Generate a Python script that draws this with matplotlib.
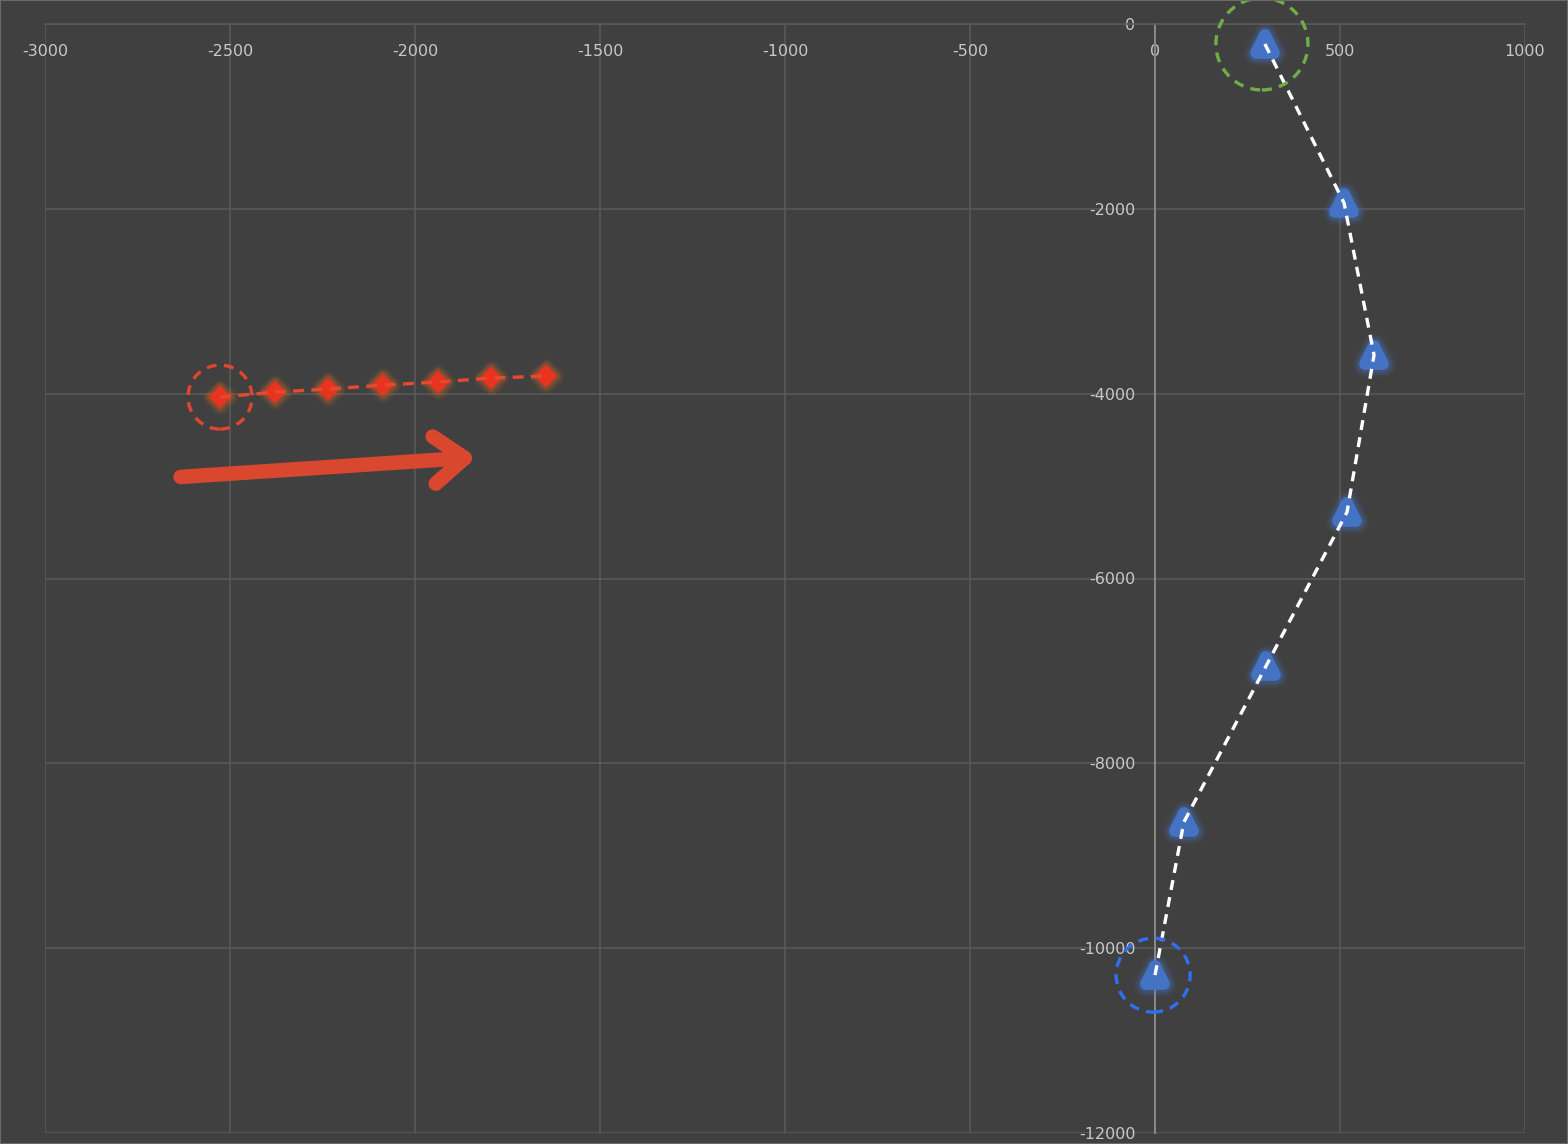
import matplotlib.pyplot as plt
from matplotlib.markers import MarkerStyle
from matplotlib.patches import Ellipse, FancyArrowPatch, Rectangle

# data
blue_x = [297, 511, 592, 519, 300, 78, 0]
blue_y = [-216, -1937, -3582, -5281, -6948, -8636, -10292]

red_x = [-2527, -2378, -2235, -2086, -1938, -1795, -1646]
red_y = [-4037, -3983, -3950, -3907, -3874, -3831, -3810]

x_ticks = [-3000, -2500, -2000, -1500, -1000, -500, 0, 500, 1000]
y_ticks = [0, -2000, -4000, -6000, -8000, -10000, -12000]

bg = '#404040'
grid_c = '#595959'
label_c = '#c8c8c8'

plt.rcParams['axes.unicode_minus'] = False
plt.rcParams['font.family'] = ['DejaVu Sans']

W, H = 1568, 1144
fig = plt.figure(figsize=(W / 100, H / 100), dpi=100, facecolor=bg)
ax = fig.add_axes([45 / W, 11 / H, 1480 / W, 1109 / H], facecolor=bg)
ax.set_xlim(-3000, 1000)
ax.set_ylim(-12000, 0)

# axes: x labels hang below the top line, y labels sit left of x=0
for s in ['right', 'bottom']:
    ax.spines[s].set_visible(False)
ax.spines['top'].set_color(grid_c)
ax.spines['top'].set_linewidth(1.2)
ax.spines['left'].set_position(('data', 0))
ax.spines['left'].set_color('#8a8a8a')
ax.spines['left'].set_linewidth(1.4)
ax.xaxis.set_ticks_position('top')
ax.set_xticks(x_ticks)
ax.set_yticks(y_ticks)
ax.tick_params(axis='x', length=0, pad=-25.5, labelsize=11.5, labelcolor=label_c)
ax.tick_params(axis='y', length=0, pad=14, labelsize=11.5, labelcolor=label_c)
ax.grid(True, color=grid_c, linewidth=1.2)
ax.set_axisbelow(True)

tri = MarkerStyle('^', joinstyle='round')
dia = MarkerStyle('D', joinstyle='round')

# blue series with soft glow
for mew, a in [(18, 0.08), (15, 0.12), (12, 0.2)]:
    ax.plot(blue_x, blue_y, linestyle='none', marker=tri, markersize=13,
            color='#4a78d0', markeredgecolor='#4a78d0', alpha=a,
            markeredgewidth=mew, zorder=3)
ax.plot(blue_x, blue_y, linestyle='none', marker=tri, markersize=13.5,
        color='#4472c4', markeredgecolor='#4472c4', markeredgewidth=8.5, zorder=4)
ax.plot(blue_x, blue_y, color='white', linewidth=2.4, dashes=(3, 2.2), zorder=5)

# red series with soft glow
for mew, a in [(11, 0.1), (8, 0.16), (5.5, 0.25)]:
    ax.plot(red_x, red_y, linestyle='none', marker=dia, markersize=10,
            color='#c8642a', markeredgecolor='#c8642a', alpha=a,
            markeredgewidth=mew, zorder=3)
ax.plot(red_x, red_y, linestyle='none', marker=dia, markersize=10,
        color='#e8331e', markeredgecolor='#e8331e', markeredgewidth=1.5, zorder=4)
ax.plot(red_x, red_y, color='#e5492f', linewidth=2.4, dashes=(3.3, 2.2), zorder=5)

# highlight circles
px_x = 1480 / 4000
px_y = 1109 / 12000
for (cx, cy), r, col in [((red_x[0], red_y[0]), 32, '#e04530'),
                         ((289, -216), 46, '#70ad47'),
                         ((blue_x[-1] - 5, blue_y[-1]), 37, '#2f6ff0')]:
    ax.add_patch(Ellipse((cx, cy), 2 * r / px_x, 2 * r / px_y, fill=False,
                         edgecolor=col, linewidth=2.4, linestyle=(0, (3, 2.2)),
                         zorder=6, clip_on=False))

# arrow
arrow = FancyArrowPatch((-2641, -4903), (-1826, -4686),
                        arrowstyle='->,head_length=1.1,head_width=0.85',
                        mutation_scale=20, color='#d9472f', linewidth=10.5,
                        capstyle='round', joinstyle='round', zorder=6)
ax.add_patch(arrow)

# chart border
fig.add_artist(Rectangle((0, 0), 1, 1, transform=fig.transFigure, fill=False,
                         edgecolor='#6a6a6a', linewidth=1.5))

fig.savefig('out.png', dpi=100, facecolor=bg)
